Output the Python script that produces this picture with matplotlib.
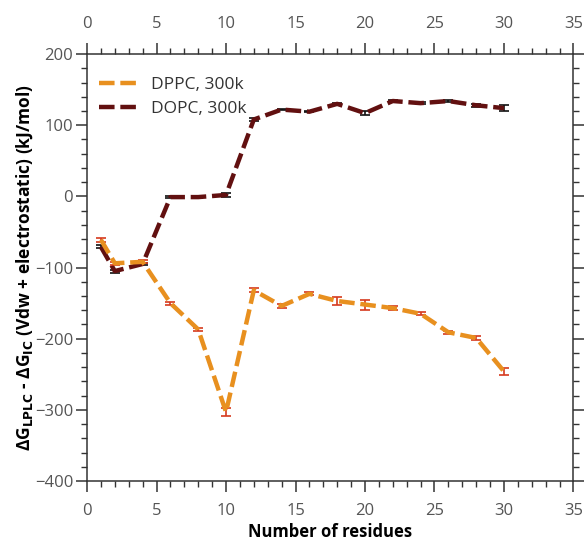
import matplotlib
matplotlib.use("Agg")
import matplotlib.pyplot as plt
from matplotlib.ticker import MultipleLocator
from matplotlib.lines import Line2D

residues = [1, 2, 4, 6, 8, 10, 12, 14, 16, 18, 20, 22, 24, 26, 28, 30]
dppc = [-61, -94, -92, -150, -187, -303, -132, -154, -137, -147, -152, -157, -165, -191, -199, -246]
dppc_err = [3, 2, 2, 2, 2, 6, 3, 3, 2, 6, 7, 3, 2, 2, 3, 5]
dopc = [-71, -105, -95, -1, -1, 2, 108, 122, 119, 130, 117, 134, 131, 134, 128, 124]
dopc_err = [2, 2, 2, 1, 1, 3, 2, 1, 1, 1, 3, 2, 1, 1, 2, 4]

plt.rcParams['font.family'] = ['Open Sans', 'DejaVu Sans']

fig = plt.figure(figsize=(5.84, 5.46), dpi=100)
ax = fig.add_axes([0.149, 0.119, 0.833, 0.782])

c_dppc, c_dopc = '#e8901f', '#621010'
dash = (3.5, 1.3)
ax.errorbar(residues, dppc, yerr=dppc_err, color=c_dppc, lw=3.2,
            dashes=dash, ecolor='#d63a1e', elinewidth=1.2, capsize=3.5,
            capthick=1.2, zorder=3)
ax.errorbar(residues, dopc, yerr=dopc_err, color=c_dopc, lw=3.2,
            dashes=dash, ecolor='#111111', elinewidth=1.2, capsize=3.5,
            capthick=1.2, zorder=2)

ax.set_xlim(0, 35)
ax.set_ylim(-400, 200)
ax.xaxis.set_major_locator(MultipleLocator(5))
ax.xaxis.set_minor_locator(MultipleLocator(1))
ax.yaxis.set_major_locator(MultipleLocator(100))
ax.yaxis.set_minor_locator(MultipleLocator(20))
ax.tick_params(which='both', direction='out', top=True, right=True,
               labeltop=True, labelright=False, color='#333333',
               labelcolor='#555555')
ax.tick_params(which='major', length=8, width=1.1, labelsize=12)
ax.tick_params(which='minor', length=4.5, width=1.0)
ax.tick_params(axis='x', which='major', pad=8)
ax.tick_params(axis='y', which='major', pad=2)
for s in ax.spines.values():
    s.set_color('#333333')
    s.set_linewidth(1.1)

ax.set_xlabel('Number of residues', fontsize=12, fontweight='bold', labelpad=3)
ax.set_ylabel(r'ΔG$_{\mathbf{LPLC}}$ - ΔG$_{\mathbf{IC}}$ (Vdw + electrostatic) (kJ/mol)',
              fontsize=12.5, fontweight='bold', labelpad=0)

handles = [Line2D([], [], color=c_dppc, lw=3.2, dashes=dash),
           Line2D([], [], color=c_dopc, lw=3.2, dashes=dash)]
leg = ax.legend(handles, ['DPPC, 300k', 'DOPC, 300k'], loc='upper left',
                frameon=False, fontsize=12.5, handlelength=2.2,
                borderaxespad=0.3, labelspacing=0.45, handletextpad=0.8,
                bbox_to_anchor=(0.0, 0.975))
for t in leg.get_texts():
    t.set_color('#333333')

fig.savefig('out.png', dpi=100)
